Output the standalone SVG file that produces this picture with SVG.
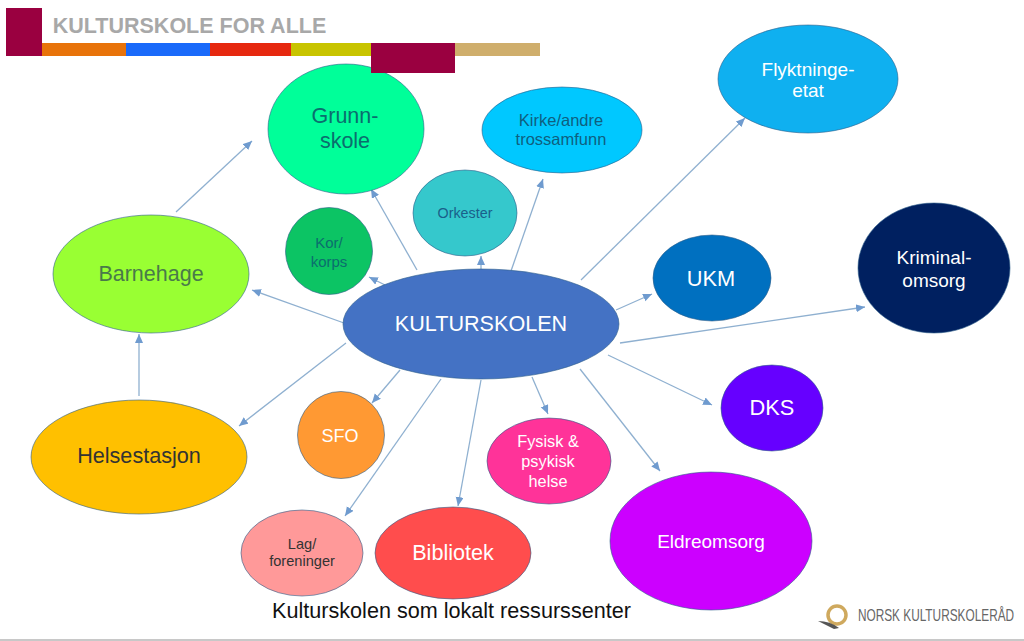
<svg xmlns="http://www.w3.org/2000/svg" width="1024" height="641" viewBox="0 0 1024 641">
<defs>
<marker id="arrow" markerUnits="userSpaceOnUse" markerWidth="10" markerHeight="9" refX="9" refY="4" orient="auto"><path d="M0 0L9 4L0 8Z" fill="#6f9bcf"/></marker>
</defs>
<style>
text{font-family:"Liberation Sans",Arial,sans-serif;text-anchor:middle}
.node ellipse{stroke:#2f5f8a;stroke-opacity:.6;stroke-width:1}
#connectors line{stroke:#8fb0d0;stroke-width:1.3;marker-end:url(#arrow)}
</style>
<rect width="1024" height="641" fill="#fff"/>
<g id="connectors">
<line x1="417" y1="270" x2="371" y2="189"/>
<line x1="385" y1="285" x2="369" y2="277"/>
<line x1="481" y1="269" x2="481" y2="256"/>
<line x1="511" y1="271" x2="543" y2="179"/>
<line x1="581" y1="280" x2="745" y2="118"/>
<line x1="616" y1="310" x2="652" y2="294"/>
<line x1="620" y1="343" x2="865" y2="307"/>
<line x1="608" y1="355" x2="712" y2="405"/>
<line x1="580" y1="369" x2="660" y2="471"/>
<line x1="532" y1="377" x2="548" y2="414"/>
<line x1="481" y1="380" x2="458" y2="506"/>
<line x1="441" y1="379" x2="345" y2="516"/>
<line x1="400" y1="370" x2="372" y2="403"/>
<line x1="346" y1="343" x2="239" y2="426"/>
<line x1="344" y1="323" x2="252" y2="290"/>
<line x1="139" y1="396" x2="139" y2="334"/>
<line x1="176" y1="212" x2="252" y2="141"/>
</g>
<g id="grunnskole" class="node"><ellipse cx="346" cy="129" rx="78" ry="65" fill="#00ff99"/><text x="345" y="123" font-size="21.500" fill="#0b6e6e">Grunn-</text><text x="345" y="148" font-size="21.500" fill="#0b6e6e">skole</text></g>
<g id="header">
<rect x="6" y="8" width="36" height="48" fill="#9a0040"/>
<rect x="42" y="43" width="84" height="13" fill="#e8730a"/>
<rect x="126" y="43" width="84" height="13" fill="#1a6afa"/>
<rect x="210" y="43" width="81" height="13" fill="#e6280f"/>
<rect x="291" y="43" width="80" height="13" fill="#c8c400"/>
<rect x="371" y="43" width="84" height="30" fill="#9a0040"/>
<rect x="455" y="43" width="85" height="13" fill="#cfae6c"/>
<text x="189.500" y="33" font-size="21.500" font-weight="bold" fill="#a8a8a8">KULTURSKOLE FOR ALLE</text>
</g>
<g id="kirke" class="node"><ellipse cx="562" cy="130" rx="80" ry="43" fill="#00c8ff"/><text x="561" y="126" font-size="16.500" fill="#0f5f7f">Kirke/andre</text><text x="561" y="145" font-size="16.500" fill="#0f5f7f">trossamfunn</text></g>
<g id="flyktninge" class="node"><ellipse cx="808" cy="79" rx="90" ry="54" fill="#0fb0f0"/><text x="808" y="76" font-size="19" fill="#fff">Flyktninge-</text><text x="808" y="97" font-size="19" fill="#fff">etat</text></g>
<g id="orkester" class="node"><ellipse cx="465" cy="213" rx="52" ry="43" fill="#35c8cc"/><text x="465" y="218" font-size="14.300" fill="#1a5f8a">Orkester</text></g>
<g id="kor" class="node"><ellipse cx="329" cy="251" rx="43.500" ry="43.500" fill="#0cc464"/><text x="329" y="248" font-size="15" fill="#0b6e6e">Kor/</text><text x="329" y="267" font-size="15" fill="#0b6e6e">korps</text></g>
<g id="barnehage" class="node"><ellipse cx="151" cy="274" rx="98" ry="59" fill="#99ff33"/><text x="151" y="281" font-size="21.500" fill="#4a7a4a">Barnehage</text></g>
<g id="ukm" class="node"><ellipse cx="712" cy="278" rx="59" ry="43" fill="#0070c0"/><text x="711" y="286" font-size="21.800" fill="#fff">UKM</text></g>
<g id="kriminal" class="node"><ellipse cx="934" cy="268" rx="76" ry="65" fill="#002060"/><text x="934" y="264" font-size="19" fill="#fff">Kriminal-</text><text x="934" y="287" font-size="19" fill="#fff">omsorg</text></g>
<g id="kulturskolen" class="node"><ellipse cx="481" cy="324" rx="138" ry="55" fill="#4472c4"/><text x="481" y="331" font-size="21.600" fill="#fff">KULTURSKOLEN</text></g>
<g id="dks" class="node"><ellipse cx="772" cy="408" rx="51" ry="43" fill="#6600ff"/><text x="772" y="415" font-size="21.800" fill="#fff">DKS</text></g>
<g id="sfo" class="node"><ellipse cx="341" cy="435" rx="43.500" ry="43.500" fill="#ff9933"/><text x="340" y="442" font-size="18" fill="#fff">SFO</text></g>
<g id="helsestasjon" class="node"><ellipse cx="139" cy="457" rx="108" ry="57" fill="#ffc000"/><text x="139" y="463" font-size="21.600" fill="#333">Helsestasjon</text></g>
<g id="fysisk" class="node"><ellipse cx="549" cy="461" rx="62" ry="43" fill="#ff3399"/><text x="548" y="447" font-size="16.300" fill="#fff">Fysisk &amp;</text><text x="548" y="467" font-size="16.300" fill="#fff">psykisk</text><text x="548" y="487" font-size="16.300" fill="#fff">helse</text></g>
<g id="eldreomsorg" class="node"><ellipse cx="711" cy="541" rx="101" ry="69" fill="#cc00ff"/><text x="711" y="548" font-size="19" fill="#fff">Eldreomsorg</text></g>
<g id="lag" class="node"><ellipse cx="302" cy="553" rx="61" ry="43" fill="#ff9999"/><text x="302" y="549" font-size="14.600" fill="#333">Lag/</text><text x="302" y="566" font-size="14.600" fill="#333">foreninger</text></g>
<g id="bibliotek" class="node"><ellipse cx="453" cy="553" rx="78" ry="46" fill="#ff4d4d"/><text x="453" y="560" font-size="21.600" fill="#fff">Bibliotek</text></g>
<text x="451.500" y="618" font-size="21.600" fill="#111">Kulturskolen som lokalt ressurssenter</text>
<g id="logo">
<circle cx="837" cy="615" r="9" fill="none" stroke="#cfa95e" stroke-width="3.500"/>
<path d="M818 621Q830 621 839 628L834 629Q826 625 818 621Z" fill="#555"/>
<text transform="translate(936 621) scale(.74 1)" font-size="16" fill="#666">NORSK KULTURSKOLERÅD</text>
</g>
<rect x="0" y="639" width="1024" height="2" fill="#c8c8c8"/>
</svg>
